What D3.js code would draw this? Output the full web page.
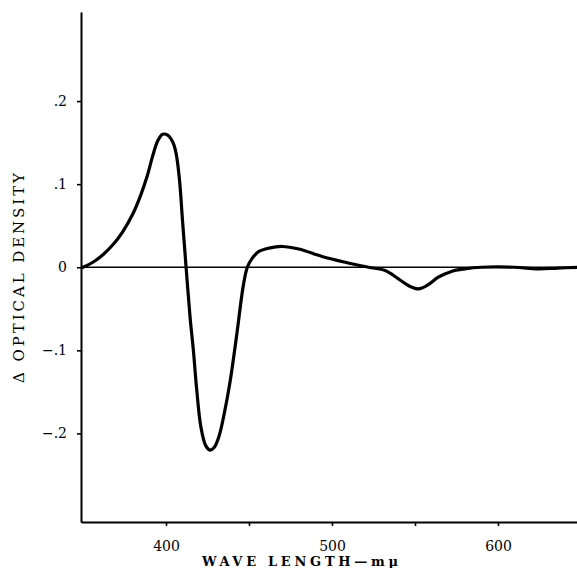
<!DOCTYPE html>
<html>
<head>
<meta charset="utf-8">
<script src="https://cdn.jsdelivr.net/npm/d3@7"></script>
<style>
  html, body { margin: 0; padding: 0; background: #fff; }
  svg { display: block; }
  text { font-family: "DejaVu Serif", "Liberation Serif", serif; fill: #000; }
</style>
</head>
<body>
<script>
// Difference spectrum: change in optical density vs. wave length (mμ)
const wavelengths = [350, 356, 362, 368, 374, 380, 385, 389, 392, 395, 398, 401, 404, 406, 408, 410, 412,
  414.5, 416.5, 418.5, 421, 424, 426.5, 429, 432, 435, 438.5, 442.5, 446.5, 449, 452, 456, 462, 470,
  480, 494, 508, 522, 532, 540, 546, 552, 558, 564, 572, 580, 590, 610, 624, 636, 648];
const deltaOD = [0.000, 0.006, 0.015, 0.027, 0.043, 0.064, 0.088, 0.112, 0.134, 0.152, 0.160, 0.159,
  0.151, 0.138, 0.108, 0.055, 0.003, -0.060, -0.100, -0.147, -0.192, -0.215, -0.220, -0.217, -0.203,
  -0.177, -0.139, -0.083, -0.023, 0.000, 0.011, 0.019, 0.023, 0.025, 0.022, 0.013, 0.006, 0.000,
  -0.004, -0.014, -0.022, -0.026, -0.021, -0.012, -0.005, -0.002, 0.000, 0.000, -0.002, -0.001, 0.000];

const xTicks = [400, 450, 500, 550, 600];
const xTickLabels = ["400", "", "500", "", "600"];
const yTicks = [0.2, 0.1, 0, -0.1, -0.2];
const yTickLabels = [".2", ".1", "0", "\u2212.1", "\u2212.2"];

const W = 577, H = 568;
const svg = d3.select("body").append("svg").attr("width", W).attr("height", H);

const x = d3.scaleLinear().domain([348.8, 647.6]).range([81, 577]);
const y = d3.scaleLinear().domain([-0.3066, 0.3072]).range([522, 12]);

// x axis
const xAxis = d3.axisBottom(x)
  .tickValues(xTicks)
  .tickFormat((d, i) => xTickLabels[i])
  .tickSize(4)
  .tickSizeOuter(0);
const gx = svg.append("g").attr("transform", `translate(0,${y.range()[0]})`).call(xAxis)
  .attr("font-family", "'DejaVu Serif', serif");
gx.select(".domain").attr("stroke", "#000").attr("stroke-width", 2);
gx.selectAll(".tick line").attr("stroke", "#000").attr("stroke-width", 1.6);
gx.selectAll(".tick text")
  .attr("y", 19).attr("dy", "0.71em")
  .style("font-size", "14px");

// y axis
const yAxis = d3.axisLeft(y)
  .tickValues(yTicks)
  .tickFormat((d, i) => yTickLabels[i])
  .tickSize(4)
  .tickSizeOuter(0);
const gy = svg.append("g").attr("transform", `translate(${x.range()[0]},0)`).call(yAxis)
  .attr("font-family", "'DejaVu Serif', serif");
gy.select(".domain").attr("stroke", "#000").attr("stroke-width", 2);
gy.selectAll(".tick line").attr("stroke", "#000").attr("stroke-width", 1.6);
gy.selectAll(".tick text")
  .attr("x", -14)
  .style("font-size", "14px");

// zero reference line
svg.append("line")
  .attr("x1", x.range()[0]).attr("x2", x.range()[1])
  .attr("y1", y(0)).attr("y2", y(0))
  .attr("stroke", "#000").attr("stroke-width", 1.5);

// spectrum curve
const pts = wavelengths.map((w, i) => [w, deltaOD[i]]);
const line = d3.line()
  .x(d => x(d[0]))
  .y(d => y(d[1]))
  .curve(d3.curveCatmullRom.alpha(0.5));
svg.append("path")
  .datum(pts)
  .attr("d", line)
  .attr("fill", "none")
  .attr("stroke", "#000")
  .attr("stroke-width", 3.2)
  .attr("stroke-linejoin", "round")
  .attr("stroke-linecap", "round");

// axis titles
svg.append("text")
  .attr("x", 300).attr("y", 566)
  .attr("text-anchor", "middle")
  .attr("textLength", 196).attr("lengthAdjust", "spacing")
  .style("font-size", "13px").style("font-weight", "bold")
  .text("WAVE LENGTH\u2014m\u03bc");

svg.append("text")
  .attr("transform", "translate(24,278) rotate(-90)")
  .attr("text-anchor", "middle")
  .attr("textLength", 210).attr("lengthAdjust", "spacing")
  .style("font-size", "15px")
  .text("\u0394 OPTICAL DENSITY");
</script>
</body>
</html>
